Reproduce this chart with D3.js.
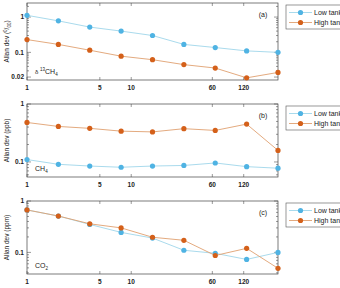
<!DOCTYPE html>
<html>
<head>
<meta charset="utf-8">
<script src="https://cdn.jsdelivr.net/npm/d3@7"></script>
<style>
  body { margin: 0; background: #fff; }
  text { font-family: "Liberation Sans", Arial, sans-serif; fill: #222; }
</style>
</head>
<body>
<div id="chart"></div>
<script>
// averaging time steps (x values)
const steps = [1, 2, 4, 8, 16, 32, 64, 128, 256];
const xTicks = [1, 5, 10, 60, 120];
const seriesNames = ["Low tank", "High tank"];

// (a) delta13CH4, permil
const d13Low  = [1.12, 0.78, 0.52, 0.40, 0.30, 0.168, 0.137, 0.11, 0.10];
const d13High = [0.23, 0.168, 0.115, 0.078, 0.062, 0.045, 0.036, 0.019, 0.027];
// (b) CH4, ppb
const ch4Low  = [0.11, 0.091, 0.085, 0.081, 0.085, 0.087, 0.096, 0.083, 0.078];
const ch4High = [0.48, 0.41, 0.38, 0.34, 0.33, 0.375, 0.35, 0.45, 0.158];
// (c) CO2, ppm
const co2Low  = [0.67, 0.51, 0.35, 0.245, 0.19, 0.11, 0.096, 0.073, 0.10];
const co2High = [0.67, 0.51, 0.36, 0.30, 0.197, 0.172, 0.087, 0.12, 0.049];

const width = 340, height = 288;
const svg = d3.select("#chart").append("svg")
  .attr("width", width).attr("height", height);

const colors = { line: ["#9fd6ea", "#e0a070"], dot: ["#4fb3e3", "#d4601a"] };

const x = d3.scaleLog().domain([1, 256]).range([27, 278]);

const panels = [
  { tag: "(a)", low: d13Low, high: d13High, dom: [0.0165, 2.5], rng: [80, 3], yTicks: [1, 0.1, 0.02], unit: "permil", gas: "d13" },
  { tag: "(b)", low: ch4Low, high: ch4High, dom: [0.055, 1], rng: [177, 104], yTicks: [1, 0.1], unit: "ppb", gas: "CH" },
  { tag: "(c)", low: co2Low, high: co2High, dom: [0.038, 1], rng: [274, 201], yTicks: [1, 0.1], unit: "ppm", gas: "CO" }
];

panels.forEach((p) => {
  const y = d3.scaleLog().domain(p.dom).range(p.rng);
  const g = svg.append("g");
  const [x0, x1] = x.range();
  const [yb, yt] = p.rng;

  // minor/major y ticks on both sides, pointing inwards
  const minor = [];
  for (let e = -3; e <= 1; e++) {
    for (let m = 1; m <= 9; m++) {
      const v = m * Math.pow(10, e);
      if (v >= p.dom[0] && v <= p.dom[1]) minor.push(v);
    }
  }
  minor.forEach((v) => {
    const len = p.yTicks.includes(v) ? 4 : 2;
    g.append("line").attr("x1", x0).attr("x2", x0 + len)
      .attr("y1", y(v)).attr("y2", y(v)).attr("stroke", "#555").attr("stroke-width", 0.6);
    g.append("line").attr("x1", x1).attr("x2", x1 - len)
      .attr("y1", y(v)).attr("y2", y(v)).attr("stroke", "#555").attr("stroke-width", 0.6);
  });
  xTicks.forEach((v) => {
    g.append("line").attr("x1", x(v)).attr("x2", x(v))
      .attr("y1", yb).attr("y2", yb - 3).attr("stroke", "#555").attr("stroke-width", 0.6);
    g.append("line").attr("x1", x(v)).attr("x2", x(v))
      .attr("y1", yt).attr("y2", yt + 3).attr("stroke", "#555").attr("stroke-width", 0.6);
    g.append("text").attr("x", x(v)).attr("y", yb + 9.5)
      .attr("text-anchor", "middle").attr("font-size", 6.5).attr("font-weight", "bold")
      .text(v);
  });
  p.yTicks.forEach((v) => {
    g.append("text").attr("x", x0 - 3).attr("y", y(v) + 2.3)
      .attr("text-anchor", "end").attr("font-size", 6.5).attr("font-weight", "bold")
      .text(v);
  });

  g.append("rect").attr("x", x0).attr("y", yt)
    .attr("width", x1 - x0).attr("height", yb - yt)
    .attr("fill", "none").attr("stroke", "#444").attr("stroke-width", 0.7);

  // y axis title
  const yl = g.append("text")
    .attr("transform", `translate(9,${(yb + yt) / 2}) rotate(-90)`)
    .attr("text-anchor", "middle").attr("font-size", 6.5);
  if (p.unit === "permil") {
    yl.append("tspan").text("Allan dev (");
    yl.append("tspan").attr("dy", -2).attr("font-size", 4.5).text("0");
    yl.append("tspan").attr("dy", 2).text("/");
    yl.append("tspan").attr("dy", 1.5).attr("font-size", 4.5).text("00");
    yl.append("tspan").attr("dy", -1.5).text(")");
  } else {
    yl.text(`Allan dev (${p.unit})`);
  }

  // gas label
  const gl = g.append("text").attr("x", 35).attr("y", yb - 6).attr("font-size", 7);
  if (p.gas === "d13") {
    gl.append("tspan").attr("font-size", 6).text("δ ");
    gl.append("tspan").attr("dy", -3).attr("font-size", 4.5).text("13");
    gl.append("tspan").attr("dy", 3).text("CH");
    gl.append("tspan").attr("dy", 2).attr("font-size", 4.5).text("4");
  } else {
    gl.append("tspan").text(p.gas === "CH" ? "CH" : "CO");
    gl.append("tspan").attr("dy", 2).attr("font-size", 4.5).text(p.gas === "CH" ? "4" : "2");
  }

  g.append("text").attr("x", 263).attr("y", yt + 14)
    .attr("text-anchor", "middle").attr("font-size", 7).text(p.tag);

  // series
  const line = d3.line().x((d, i) => x(steps[i])).y((d) => y(d));
  [p.low, p.high].forEach((vals, k) => {
    g.append("path").datum(vals).attr("d", line)
      .attr("fill", "none").attr("stroke", colors.line[k]).attr("stroke-width", 0.9);
    g.selectAll(null).data(vals).enter().append("circle")
      .attr("cx", (d, i) => x(steps[i])).attr("cy", (d) => y(d))
      .attr("r", 2.6).attr("fill", colors.dot[k]);
  });

  // legend
  const lg = g.append("g").attr("transform", `translate(286,${yt + 2})`);
  lg.append("rect").attr("x", 0).attr("y", 0).attr("width", 60).attr("height", 24)
    .attr("fill", "#fff").attr("stroke", "#555").attr("stroke-width", 0.6);
  seriesNames.forEach((name, k) => {
    const ly = 7.5 + k * 10;
    lg.append("line").attr("x1", 3).attr("x2", 26).attr("y1", ly).attr("y2", ly)
      .attr("stroke", colors.line[k]).attr("stroke-width", 0.9);
    lg.append("circle").attr("cx", 14.5).attr("cy", ly).attr("r", 2.6).attr("fill", colors.dot[k]);
    lg.append("text").attr("x", 28).attr("y", ly + 2.4).attr("font-size", 7).text(name);
  });
});
</script>
</body>
</html>
